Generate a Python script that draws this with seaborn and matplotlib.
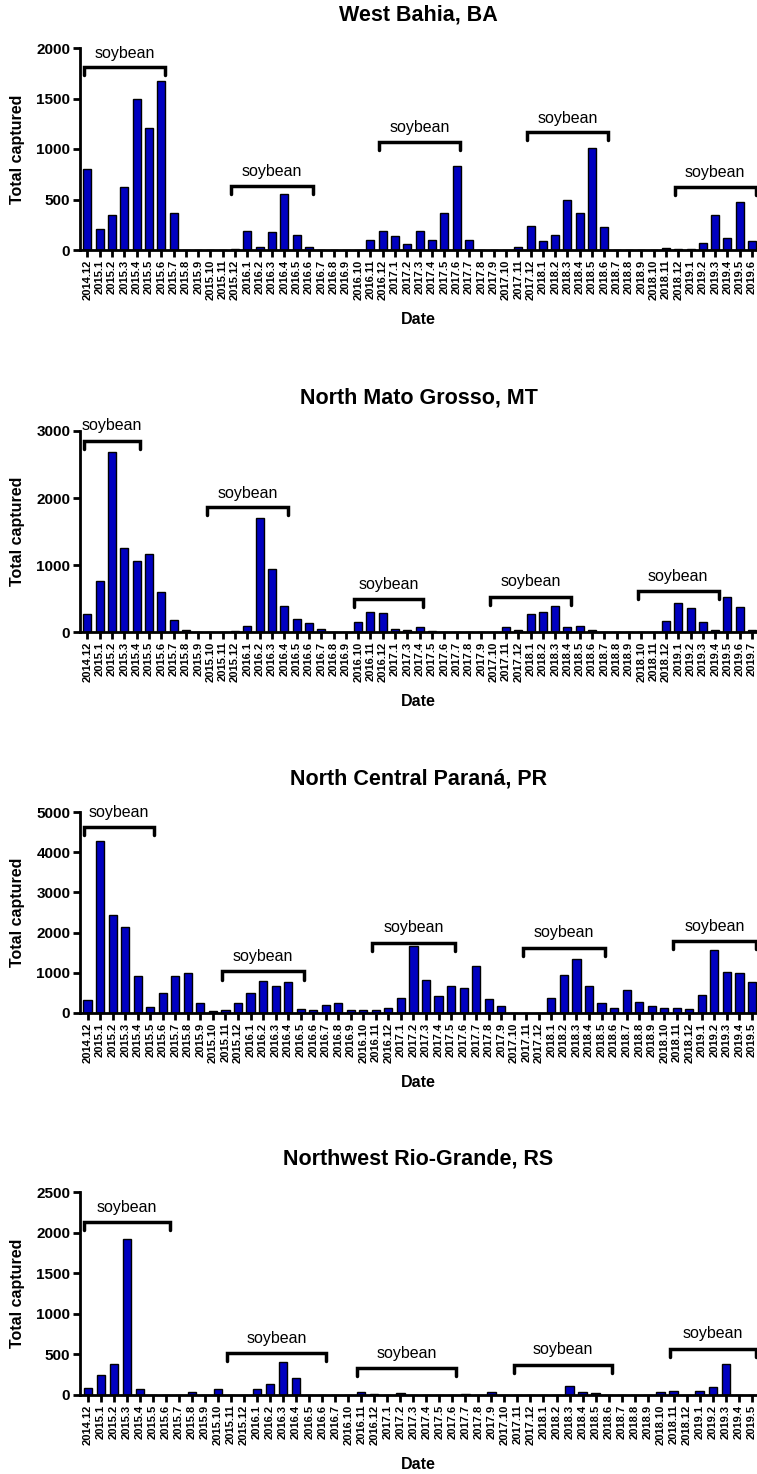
import seaborn as sns
import matplotlib.pyplot as plt

# monthly labels per region
bahia_months = ['2014.12'] + ['2015.%d' % m for m in range(1, 13)] + ['2016.%d' % m for m in range(1, 13)] \
    + ['2017.%d' % m for m in range(1, 13)] + ['2018.%d' % m for m in range(1, 13)] + ['2019.%d' % m for m in range(1, 7)]
bahia_counts = [800, 205, 350, 620, 1500, 1210, 1675, 362,
                0, 0, 0, 0, 8, 188, 32, 182, 559, 152, 28,
                0, 0, 0, 0, 102, 188, 142, 56, 188, 102, 364, 836,
                102, 0, 0, 0, 28, 241, 86, 145, 496, 370, 1008, 231,
                0, 0, 0, 0, 20, 8, 6, 69, 350, 119, 473, 93]

mato_months = ['2014.12'] + ['2015.%d' % m for m in range(1, 13)] + ['2016.%d' % m for m in range(1, 13)] \
    + ['2017.1'] + ['2017.%d' % m for m in range(3, 13)] + ['2018.%d' % m for m in range(1, 13)] + ['2019.%d' % m for m in range(1, 8)]
mato_counts = [274, 767, 2686, 1251, 1066, 1161, 590, 174,
               25, 0, 0, 0, 20, 90, 1704, 937, 389, 194, 130,
               40, 0, 0, 150, 294, 279, 50, 35, 75, 20, 5,
               0, 0, 0, 0, 70, 25, 264, 294, 384, 70, 95, 35,
               0, 0, 0, 0, 0, 164, 439, 359, 150, 35, 528, 369, 30]

parana_months = ['2014.12'] + ['2015.%d' % m for m in range(1, 13)] + ['2016.%d' % m for m in range(1, 13)] \
    + ['2017.%d' % m for m in range(1, 13)] + ['2018.%d' % m for m in range(1, 13)] + ['2019.%d' % m for m in range(1, 6)]
parana_counts = [314, 4281, 2438, 2149, 917, 140, 504, 917, 983, 256, 50, 74,
                 240, 488, 785, 661, 760, 99, 74, 198, 248, 66, 66, 66, 124,
                 372, 1678, 810, 430, 661, 620, 1157, 347, 165, 0, 0, 0,
                 364, 942, 1339, 661, 256, 124, 562, 273, 165, 124, 116, 107,
                 438, 1570, 1008, 983, 769]

rs_months = ['2014.12'] + ['2015.%d' % m for m in range(1, 13)] + ['2016.%d' % m for m in range(1, 8)] \
    + ['2016.%d' % m for m in range(10, 13)] + ['2017.%d' % m for m in range(1, 13)] \
    + ['2018.%d' % m for m in range(1, 13)] + ['2019.%d' % m for m in range(1, 6)]
rs_counts = [82, 251, 378, 1924, 78, 0, 0, 0, 41, 0, 78, 0,
             0, 78, 132, 411, 206, 0, 0, 0,
             0, 41, 15,
             0, 20, 0, 0, 0, 0, 16, 0, 33, 0, 0, 0,
             0, 0, 115, 37, 20, 0, 0, 0, 0, 33, 53, 0,
             53, 103, 378, 0, 0]

# soybean seasons: first month, last month, bracket level, text level
bahia_seasons = [('2014.12', '2015.6', 1808, 1950), ('2015.12', '2016.6', 635, 777),
                 ('2016.12', '2017.6', 1068, 1216), ('2017.12', '2018.6', 1167, 1306),
                 ('2018.12', '2019.6', 628, 770)]
mato_seasons = [('2014.12', '2015.4', 2855, 3075), ('2015.10', '2016.4', 1869, 2068),
                ('2016.10', '2017.4', 498, 712), ('2017.10', '2018.4', 523, 748),
                ('2018.10', '2019.4', 613, 822)]
parana_seasons = [('2014.12', '2015.5', 4628, 5000), ('2015.11', '2016.5', 1033, 1405),
                  ('2016.11', '2017.5', 1736, 2124), ('2017.11', '2018.5', 1628, 2000),
                  ('2018.11', '2019.5', 1793, 2149)]
rs_seasons = [('2014.12', '2015.6', 2130, 2315), ('2015.11', '2016.6', 514, 691),
              ('2016.11', '2017.6', 329, 506), ('2017.11', '2018.6', 370, 555),
              ('2018.11', '2019.5', 572, 753)]

titles = ['West Bahia, BA', 'North Mato Grosso, MT', 'North Central Paraná, PR', 'Northwest Rio-Grande, RS']
ymax = [2000, 3000, 5000, 2500]
ystep = [500, 1000, 1000, 500]

panels = [(bahia_months, bahia_counts, bahia_seasons),
          (mato_months, mato_counts, mato_seasons),
          (parana_months, parana_counts, parana_seasons),
          (rs_months, rs_counts, rs_seasons)]

# pixel box of each plot (top, bottom)
boxes = [(48, 250), (431, 632), (812, 1013), (1192, 1395)]

sns.set_style('ticks', {'axes.edgecolor': 'black', 'text.color': 'black', 'axes.labelcolor': 'black',
                        'xtick.color': 'black', 'ytick.color': 'black'})
plt.rcParams['font.family'] = ['Liberation Sans', 'DejaVu Sans']
plt.rcParams['font.weight'] = 'bold'
plt.rcParams['axes.labelweight'] = 'bold'

W, H = 757, 1474
fig = plt.figure(figsize=(W / 100, H / 100), dpi=100)

for i, (months, counts, seasons) in enumerate(panels):
    top, bottom = boxes[i]
    h = bottom - top
    ax = fig.add_axes([80 / W, 1 - bottom / H, 677 / W, h / H])

    sns.barplot(x=months, y=counts, ax=ax, color='#0000c0', saturation=1,
                edgecolor='black', linewidth=1, width=0.65)

    ax.set_xlim(-0.6, len(months) - 0.6)
    ax.set_ylim(0, ymax[i])
    ax.set_yticks(range(0, ymax[i] + 1, ystep[i]))
    sns.despine(ax=ax)
    for s in ['left', 'bottom']:
        ax.spines[s].set_linewidth(2)
    ax.tick_params(axis='x', rotation=90, labelsize=8, length=5, width=2, pad=2)
    ax.tick_params(axis='y', labelsize=11, length=5, width=2, pad=2)
    for lab in ax.get_xticklabels() + ax.get_yticklabels():
        lab.set_fontweight('bold')

    ax.set_xlabel('Date', fontsize=11.5)
    ax.set_ylabel('Total captured', fontsize=11.5)
    ax.xaxis.set_label_coords(0.5, -62 / h)
    ax.yaxis.set_label_coords(-55 / 677, 0.5)
    ax.text(0.5, 1 + 33 / h, titles[i], transform=ax.transAxes, ha='center', va='center',
            fontsize=15.5, fontweight='bold')

    # soybean season brackets
    drop = ymax[i] * 0.04
    for start, end, level, tlevel in seasons:
        x0 = months.index(start) - 0.3
        x1 = months.index(end) + 0.3
        ax.plot([x0, x0, x1, x1], [level - drop, level, level, level - drop],
                color='black', lw=2.5, clip_on=False, solid_joinstyle='miter')
        ax.text((x0 + x1) / 2, tlevel, 'soybean', ha='center', va='center',
                fontsize=11.5, fontweight='normal', clip_on=False)

fig.savefig('out.png', dpi=100)
